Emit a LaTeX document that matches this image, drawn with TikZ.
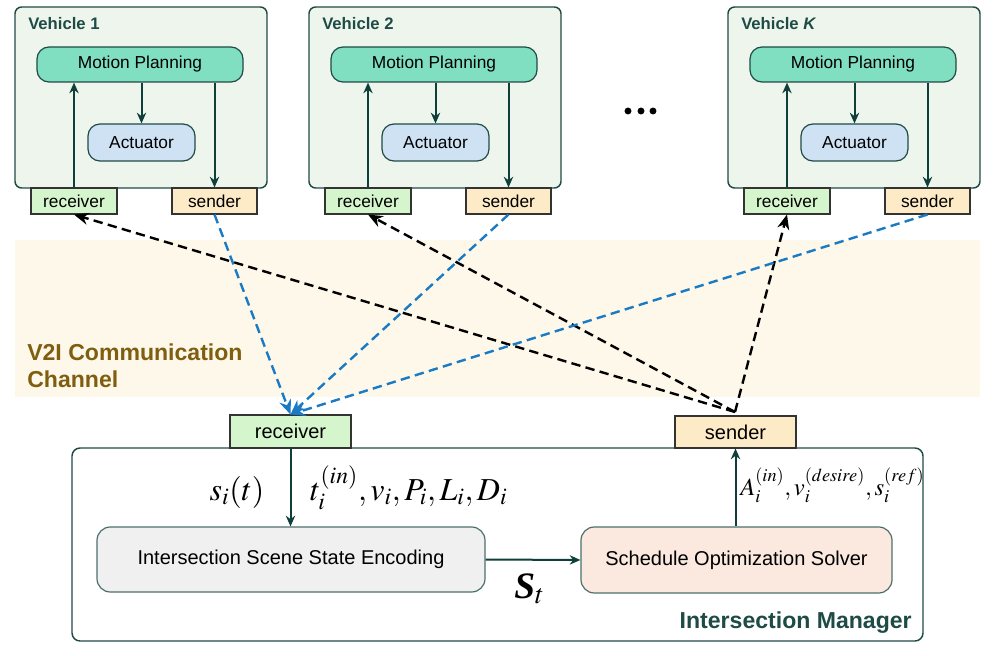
\documentclass[tikz,border=0pt]{standalone}
\usepackage{mathptmx}
\usepackage[no-math]{fontspec}
\setmainfont{Liberation Sans}
\newfontfamily\tnr{Liberation Serif}
\usetikzlibrary{arrows.meta}
\definecolor{bordc}{HTML}{1F4B47}
\definecolor{arrc}{HTML}{0F3F3B}
\definecolor{vehfill}{HTML}{EEF5EC}
\definecolor{mpfill}{HTML}{80DEC1}
\definecolor{actfill}{HTML}{CFE2F3}
\definecolor{rxfill}{HTML}{D5F6CC}
\definecolor{txfill}{HTML}{FCEBC6}
\definecolor{issefill}{HTML}{F0F0F0}
\definecolor{sosfill}{HTML}{FBE8DF}
\definecolor{bandfill}{HTML}{FDF8EA}
\definecolor{v2icol}{HTML}{7F5E10}
\definecolor{bluec}{HTML}{1A7BC4}
\tikzset{
  vehbox/.style={draw=bordc, line width=1.1pt, fill=vehfill, rounded corners=5pt, inner sep=0pt},
  mpbox/.style={draw=bordc, line width=0.9pt, fill=mpfill, rounded corners=9pt, inner sep=0pt, font=\fontsize{13}{15}\selectfont},
  actbox/.style={draw=bordc, line width=0.9pt, fill=actfill, rounded corners=9pt, inner sep=0pt, font=\fontsize{13}{15}\selectfont},
  rxbox/.style={draw=black!80, line width=0.8pt, fill=rxfill, inner sep=0pt, font=\fontsize{13}{15}\selectfont},
  txbox/.style={draw=black!80, line width=0.8pt, fill=txfill, inner sep=0pt, font=\fontsize{13}{15}\selectfont},
  procbox/.style={draw=bordc!80, line width=0.9pt, rounded corners=10pt, inner sep=0pt, font=\fontsize{15}{18}\selectfont},
  flow/.style={draw=arrc, line width=1.5pt, -{Stealth[length=8pt,width=7pt]}},
  blackdash/.style={draw=black, line width=1.8pt, dash pattern=on 7pt off 4pt, -{Stealth[length=11pt,width=9pt]}},
  bluedash/.style={draw=bluec, line width=1.8pt, dash pattern=on 7pt off 4pt, -{Stealth[length=11pt,width=9pt]}},
  lab/.style={inner sep=0pt},
  mathlab/.style={inner sep=0pt, font=\fontsize{24}{28}\selectfont},
}
\begin{document}
\begin{tikzpicture}[x=0.75pt,y=-0.75pt]
\useasboundingbox (0,0) rectangle (1000,656);
% V2I band
\fill[bandfill] (15,240) rectangle (980,397);
\node[lab, anchor=west, align=left, text=v2icol, font=\bfseries\fontsize{17.3}{20.25}\selectfont] (v2i) at (27,366) {V2I Communication\\Channel};

% vehicles
\foreach \dx/\n/\lab in {0/1/{Vehicle 1},294/2/{Vehicle 2},713/K/{Vehicle \textit{K}}}{
  \node[vehbox, minimum width=189pt, minimum height=135.75pt] (v\n) at (141+\dx,97.5) {};
  \node[lab, anchor=base west, text=bordc, font=\bfseries\fontsize{12.5}{15}\selectfont] (vt\n) at (28+\dx,30) {\lab};
  \node[mpbox, minimum width=154.5pt, minimum height=26.25pt] (mp\n) at (140+\dx,64.5) {Motion Planning};
  \node[actbox, minimum width=80.25pt, minimum height=27.75pt] (act\n) at (141.5+\dx,142.5) {Actuator};
  \node[rxbox, minimum width=64.5pt, minimum height=19.5pt] (rx\n) at (74+\dx,201) {receiver};
  \node[txbox, minimum width=63.75pt, minimum height=19.5pt] (tx\n) at (214.5+\dx,201) {sender};
  \draw[flow] (rx\n.north) -- (rx\n.north |- mp\n.south);
  \draw[flow] (act\n.north |- mp\n.south) -- (act\n.north);
  \draw[flow] (tx\n.north |- mp\n.south) -- (tx\n.north);
}
% dots
\foreach \xx in {628,641,653}{\fill[black] (\xx,111) circle (2.6pt);}

% intersection manager
\node[vehbox, fill=white, rounded corners=6pt, minimum width=638.25pt, minimum height=144.75pt] (im) at (497.5,544.5) {};
\node[rxbox, minimum width=90.75pt, minimum height=24.75pt, font=\fontsize{15}{18}\selectfont] (rxim) at (290.5,431.5) {receiver};
\node[txbox, minimum width=90.75pt, minimum height=24pt, font=\fontsize{15}{18}\selectfont] (txim) at (735.5,432) {sender};
\node[procbox, fill=issefill, minimum width=291pt, minimum height=48.75pt] (isse) at (291,559.5) {Intersection Scene State Encoding};
\node[procbox, fill=sosfill, minimum width=233.25pt, minimum height=49.5pt] (sos) at (736.5,560) {Schedule Optimization Solver};
\node[lab, anchor=base east, text=bordc, font=\bfseries\fontsize{17.3}{20}\selectfont] (imt) at (912,628) {Intersection Manager};

\draw[flow] (rxim.south) -- (rxim.south |- isse.north);
\draw[flow] (isse.east) -- (sos.west);
\draw[flow] (sos.north -| txim.south) -- (txim.south);

\node[mathlab, anchor=base] (si) at (237,500) {$s_i(t)$};
\node[mathlab, anchor=base west] (tin) at (310,500) {$t_i^{(in)},v_i,P_i,L_i,D_i$};
\node[mathlab, anchor=base west, font=\fontsize{18.5}{22}\selectfont] (ain) at (740,495) {$A_i^{(in)},v_i^{(desire)},s_i^{(ref)}$};
\node[mathlab, anchor=base west, font=\fontsize{28}{32}\selectfont] (st) at (514,598) {{\tnr\bfseries\itshape S}$_t$};

% V2I dashed links
\coordinate (imsrc) at (735,412);
\draw[blackdash] (imsrc) -- (rx1.south);
\draw[blackdash] (imsrc) -- (rx2.south);
\draw[blackdash] (imsrc) -- (rxK.south);
\draw[bluedash] (tx1.south) -- (rxim.north);
\draw[bluedash] (tx2.south) -- (rxim.north);
\draw[bluedash] (txK.south) -- (rxim.north);
\end{tikzpicture}
\end{document}
